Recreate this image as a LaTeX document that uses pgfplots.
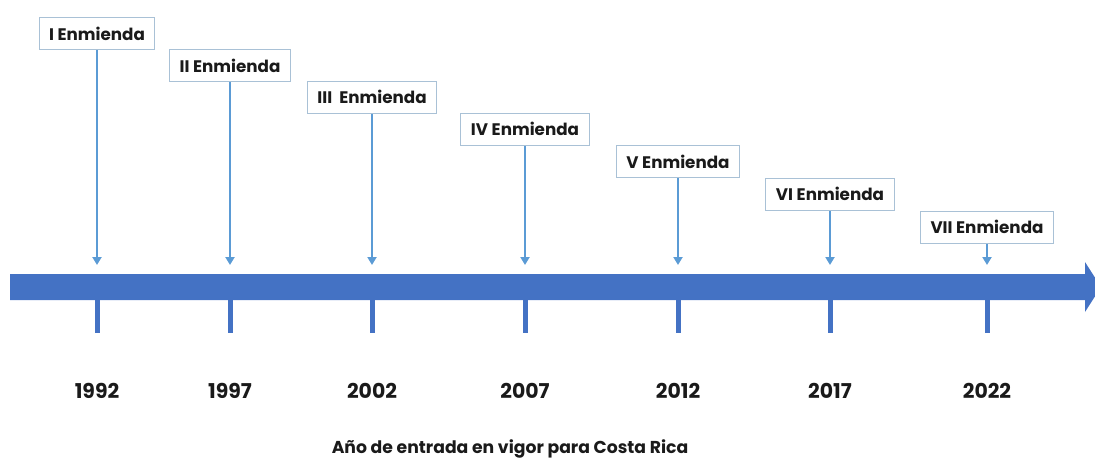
\documentclass[border=0pt]{standalone}
\usepackage{pgfplots}
\pgfplotsset{compat=1.18}
\usepackage{pgfplotstable}
\usepackage{fontspec}
\setmainfont{Poppins}
\usetikzlibrary{arrows.meta}
\definecolor{band}{HTML}{4472C4}
\definecolor{arr}{HTML}{5B9BD5}
\definecolor{boxc}{HTML}{A9C1D6}
\definecolor{txt}{HTML}{1A1A1A}
% pos = horizontal position on the timeline, boxmid/boxbot = label box centre/bottom
\pgfplotstableread[col sep=comma]{
pos,year,boxmid,boxbot,label
97,1992,33.5,50,I Enmienda
230,1997,65.5,82,II Enmienda
372,2002,97,113,III~~Enmienda
525,2007,129,145,IV Enmienda
678,2012,161.5,178,V Enmienda
830,2017,194,210,VI Enmienda
987,2022,227,243,VII Enmienda
}\data
\begin{document}
\begin{tikzpicture}
\begin{axis}[
  scale only axis, width=1095bp, height=458bp,
  xmin=0, xmax=1095, ymin=0, ymax=458, y dir=reverse,
  hide axis, clip=false,
]
% timeline band with arrow head
\addplot[fill=band, draw=none] coordinates {
  (10,274) (1085,274) (1085,262) (1101,287) (1085,312) (1085,300) (10,300)} -- cycle;
% ticks below the band
\addplot[draw=band, line width=5bp, quiver={u=0, v=33}] table[x=pos, y expr=300] {\data};
% arrows from boxes to the band
\addplot[draw=arr, line width=2.4bp, -{Triangle[length=8bp,width=9bp]},
  quiver={u=0, v={265-\thisrow{boxbot}}}] table[x=pos, y=boxbot] {\data};
% label boxes
\addplot[only marks, mark=none, nodes near coords, point meta=explicit symbolic,
  every node near coord/.style={anchor=center, draw=boxc, line width=1bp, fill=white,
    text=txt, font=\fontsize{16.8}{18}\selectfont\bfseries,
    minimum height=32bp, inner xsep=10bp}]
  table[x=pos, y=boxmid, meta=label] {\data};
% year labels
\addplot[only marks, mark=none, nodes near coords, point meta=explicit symbolic,
  every node near coord/.style={anchor=center, text=txt,
    font=\fontsize{20.5}{22}\selectfont\bfseries}]
  table[x=pos, y expr=391, meta=year] {\data};
\node[text=txt, font=\fontsize{17.3}{19}\selectfont\bfseries] at (axis cs:510,449)
  {Año de entrada en vigor para Costa Rica};
\end{axis}
\pgfresetboundingbox
\useasboundingbox (current axis.south west) rectangle (current axis.north east);
\end{tikzpicture}
\end{document}
